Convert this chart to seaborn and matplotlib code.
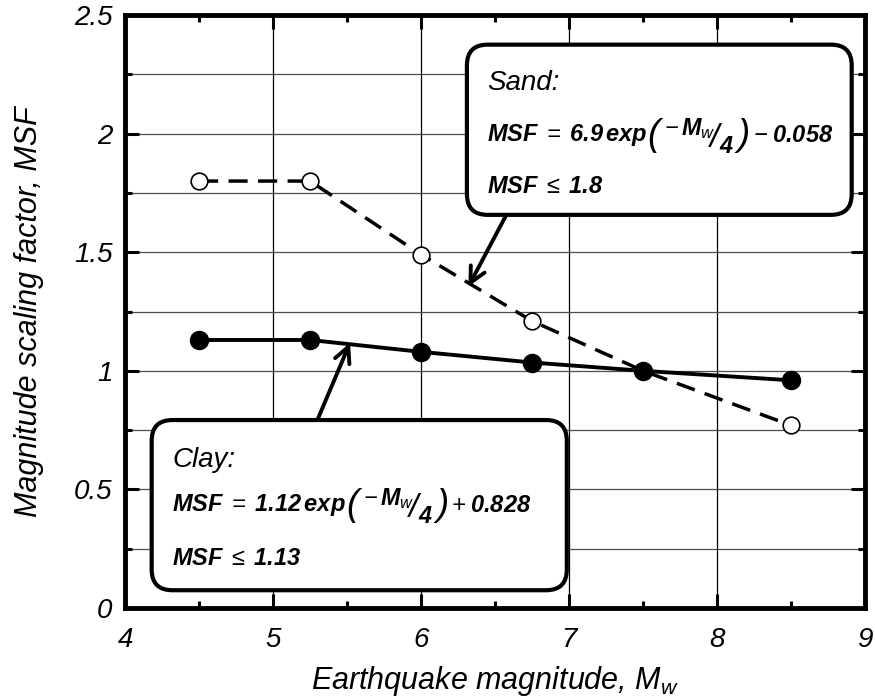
import matplotlib
matplotlib.use("Agg")
import matplotlib.pyplot as plt
import seaborn as sns
from matplotlib.patches import FancyBboxPatch
from matplotlib.ticker import MultipleLocator, FormatStrFormatter

# values
mw = [4.5, 5.25, 6.0, 6.75, 7.5, 8.5]
msf_sand = [1.80, 1.80, 1.49, 1.21, 1.00, 0.77]
msf_clay = [1.13, 1.13, 1.08, 1.035, 1.00, 0.96]

frac = r"$\left(\,{}^{-\,\mathbfit{M}_{\mathit{w}}}\!/_{\mathbfit{4}}\,\right)$"
sand_lines = ["Sand:", r"$\mathbfit{MSF}\;=\;\mathbfit{6.9\,exp}$", frac,
              r"$-\;\mathbfit{0.058}$", r"$\mathbfit{MSF}\;\leq\;\mathbfit{1.8}$"]
clay_lines = ["Clay:", r"$\mathbfit{MSF}\;=\;\mathbfit{1.12\,exp}$", frac,
              r"$+\;\mathbfit{0.828}$", r"$\mathbfit{MSF}\;\leq\;\mathbfit{1.13}$"]

sns.set_theme(style="ticks")
plt.rcParams["font.family"] = ["Liberation Sans", "DejaVu Sans"]
plt.rcParams["font.style"] = "italic"
plt.rcParams["text.color"] = "black"
plt.rcParams["axes.labelcolor"] = "black"
plt.rcParams["mathtext.fontset"] = "custom"
plt.rcParams["mathtext.rm"] = "Liberation Sans"
plt.rcParams["mathtext.it"] = "Liberation Sans:italic"
plt.rcParams["mathtext.bf"] = "Liberation Sans:bold"
plt.rcParams["mathtext.bfit"] = "Liberation Sans:italic:bold"
plt.rcParams["mathtext.sf"] = "Liberation Sans"

fig = plt.figure(figsize=(8.75, 6.98), dpi=100)
ax = fig.add_axes([0.1429, 0.1289, 0.8457, 0.8496])

sns.lineplot(x=mw, y=msf_sand, ax=ax, color="black", lw=2.5,
             linestyle=(0, (5.5, 3)), marker="o", markersize=12,
             markerfacecolor="white", markeredgecolor="black",
             markeredgewidth=1.2, zorder=3)
sns.lineplot(x=mw, y=msf_clay, ax=ax, color="black", lw=2.8,
             marker="o", markersize=13, markerfacecolor="black",
             markeredgecolor="black", markeredgewidth=1, zorder=4)

ax.set_xlim(4, 9)
ax.set_ylim(0, 2.5)
ax.xaxis.set_major_locator(MultipleLocator(1))
ax.xaxis.set_minor_locator(MultipleLocator(0.5))
ax.yaxis.set_major_locator(MultipleLocator(0.5))
ax.yaxis.set_minor_locator(MultipleLocator(0.25))
ax.yaxis.set_major_formatter(FormatStrFormatter("%g"))

ax.set_axisbelow(True)
ax.grid(True, which="major", axis="x", color="black", lw=0.9)
ax.grid(True, which="both", axis="y", color="0.3", lw=0.9)

ax.tick_params(which="both", direction="in", top=True, right=True,
               width=2.2, colors="black", labelsize=20)
ax.tick_params(which="major", length=10)
ax.tick_params(which="minor", length=5)
ax.tick_params(axis="x", pad=14)
ax.tick_params(axis="y", pad=9)
for s in ax.spines.values():
    s.set_linewidth(3.5)
    s.set_color("black")

ax.set_xlabel(r"Earthquake magnitude, $M_w$", fontsize=22)
ax.set_ylabel("Magnitude scaling factor, MSF", fontsize=22)
ax.xaxis.set_label_coords(0.5, -0.094)
ax.yaxis.set_label_coords(-0.109, 0.5)

# rounded boxes with the fitted relations
for x0, y0, x1, y1 in [(0.462, 0.663, 0.982, 0.95), (0.036, 0.03, 0.597, 0.317)]:
    ax.add_patch(FancyBboxPatch((x0, y0), x1 - x0, y1 - y0,
                                boxstyle="round,pad=0,rounding_size=0.028",
                                mutation_aspect=740 / 593,
                                transform=ax.transAxes, facecolor="white",
                                edgecolor="black", lw=3, zorder=5))


def relation(lines, x, y_title, y_eq, y_lim):
    ax.text(x, y_title, lines[0], transform=ax.transAxes, fontsize=20,
            va="baseline", zorder=6)
    t = ax.text(x, y_eq, lines[1], transform=ax.transAxes, fontsize=17,
                va="center", zorder=6)
    t = ax.annotate(lines[2], xy=(1, 0.5), xycoords=t, xytext=(0, 0),
                    textcoords="offset points", fontsize=24, va="center",
                    zorder=6)
    ax.annotate(lines[3], xy=(1, 0.5), xycoords=t, xytext=(2, 0),
                textcoords="offset points", fontsize=17, va="center", zorder=6)
    ax.text(x, y_lim, lines[4], transform=ax.transAxes, fontsize=17,
            va="center", zorder=6)


relation(sand_lines, 0.489, 0.8735, 0.7976, 0.71)
relation(clay_lines, 0.0635, 0.2378, 0.1737, 0.0843)

arrow = dict(arrowstyle="->", lw=2.8, color="black", mutation_scale=28,
             shrinkA=0, shrinkB=0)
ax.annotate("", xy=(6.32, 1.355), xytext=(6.57, 1.65), arrowprops=arrow, zorder=6)
ax.annotate("", xy=(5.52, 1.118), xytext=(5.30, 0.793), arrowprops=arrow, zorder=6)

fig.savefig("out.png", dpi=100)
